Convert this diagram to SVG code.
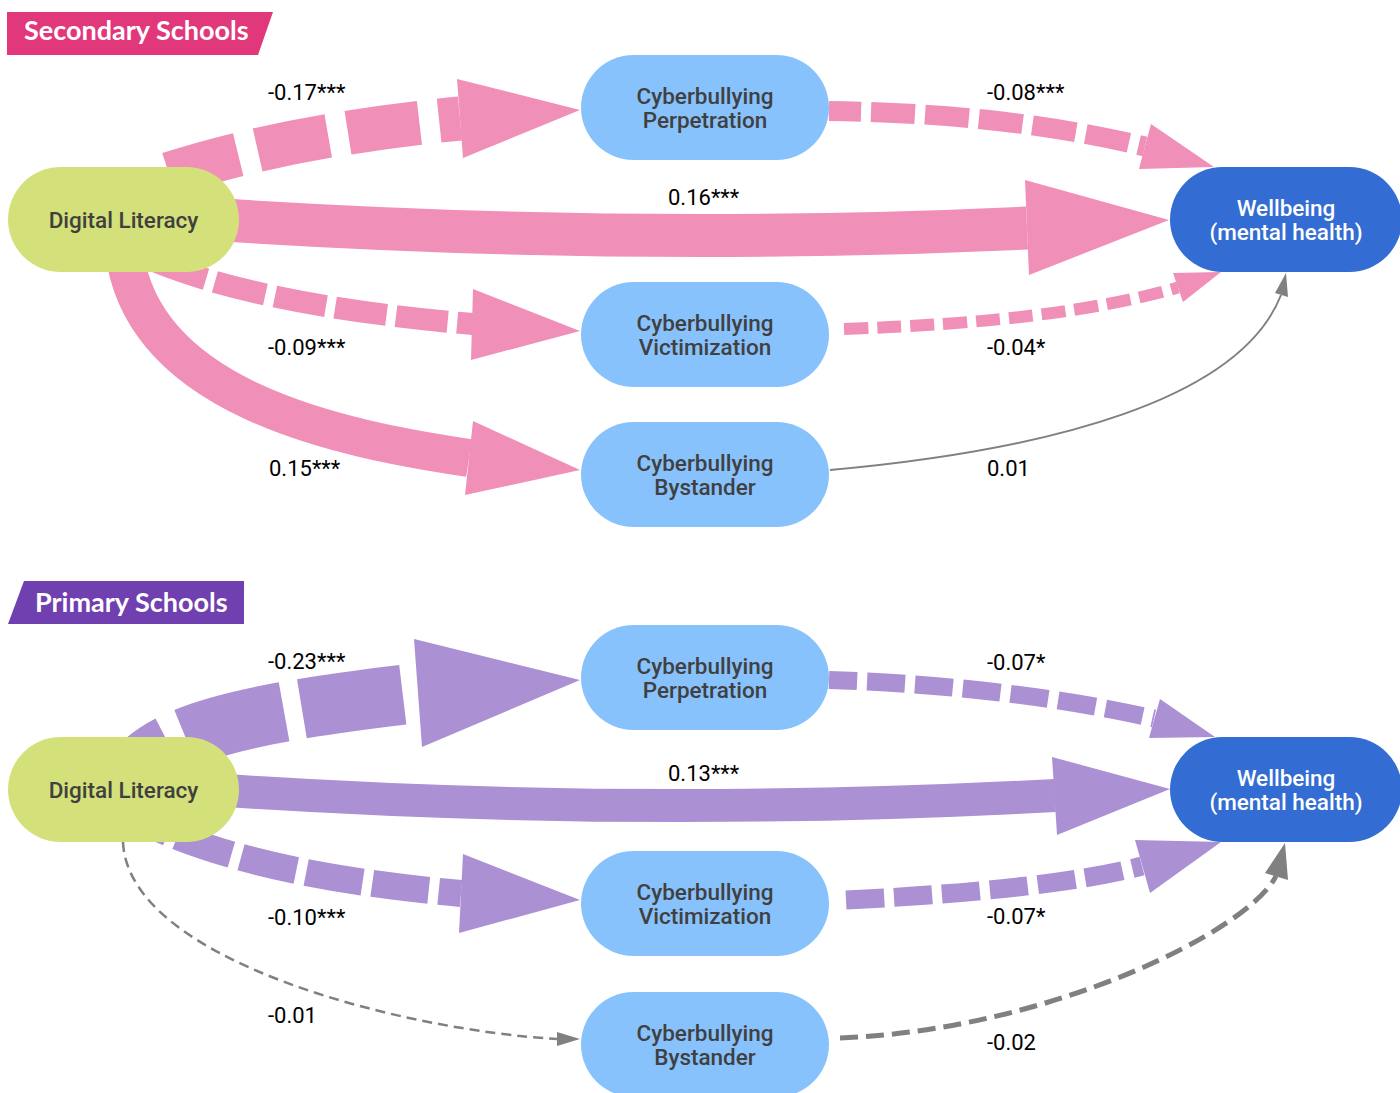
<svg xmlns="http://www.w3.org/2000/svg" width="1400" height="1093" viewBox="0 0 1400 1093">
<style>
.pk{fill:none;stroke:#F08FB8}
.pu{fill:none;stroke:#AB90D3}
.gr{fill:none;stroke:#808080}
.pkh{fill:#F08FB8}
.puh{fill:#AB90D3}
.grh{fill:#808080}
.dl{fill:#D4E17A}
.cb{fill:#88C2FD}
.wb{fill:#336DD3}
.nt{font-family:Roboto,"Liberation Sans",sans-serif;font-size:22.5px;font-weight:500;fill:#404040;text-anchor:middle}
.wt{font-family:Roboto,"Liberation Sans",sans-serif;font-size:22.5px;font-weight:500;fill:#ffffff;text-anchor:middle}
.el{font-family:Roboto,"Liberation Sans",sans-serif;font-size:22px;fill:#000000}
.hd{font-family:Lato,"Liberation Sans",sans-serif;font-size:27px;font-weight:700;fill:#ffffff}
</style>
<rect width="1400" height="1093" fill="#ffffff"/>
<g id="header-secondary">
<polygon points="7,12 273,12 258,55 7,55" fill="#E0387A"/>
<text class="hd" x="24" y="40">Secondary Schools</text>
</g>
<g id="header-primary">
<polygon points="24,581 244,581 244,624 8,624" fill="#7040B0"/>
<text class="hd" x="35" y="612">Primary Schools</text>
</g>
<g id="connectors">
<g id="e-sec-dl-perp">
<path class="pk" d="M169,174 Q290,135 460,118.5" stroke-width="44" stroke-dasharray="72 20"/>
<polygon class="pkh" points="457,79 463,158 580,110"/>
</g>
<g id="e-sec-dl-wb">
<path class="pk" d="M150,215 Q600,248 1027,228" stroke-width="43"/>
<polygon class="pkh" points="1025,180 1029,275 1169,220"/>
</g>
<g id="e-sec-dl-vict">
<path class="pk" d="M140,255 Q250,305 473,324" stroke-width="22" stroke-dasharray="52 9.5" stroke-dashoffset="43"/>
<polygon class="pkh" points="473,289 471,360 580,331"/>
</g>
<g id="e-sec-dl-byst">
<path class="pk" d="M123,230 C123,400 350,440 469,458" stroke-width="38"/>
<polygon class="pkh" points="473,421 465,495 580,470"/>
</g>
<g id="e-sec-perp-wb">
<path class="pk" d="M829,111 Q1005,113 1145,146.5" stroke-width="20" stroke-dasharray="44 10" stroke-dashoffset="12"/>
<polygon class="pkh" points="1151,124 1139,169 1214,167"/>
</g>
<g id="e-sec-vict-wb">
<path class="pk" d="M844,329 Q1060,322 1178,287.5" stroke-width="12" stroke-dasharray="24 9"/>
<polygon class="pkh" points="1173,273 1183,302 1221,272"/>
</g>
<g id="e-sec-byst-wb">
<path class="gr" d="M830,470 C1050,450 1240,400 1281,295" stroke-width="2"/>
<polygon class="grh" points="1275,293 1288,297 1286,273"/>
</g>
<g id="e-pri-dl-perp">
<path class="pu" d="M123,789 C150,735 230,715 418,693" stroke-width="60" stroke-dasharray="102 18" stroke-dashoffset="37"/>
<polygon class="puh" points="414,639 422,747 580,680"/>
</g>
<g id="e-pri-dl-wb">
<path class="pu" d="M150,785 Q600,820 1055,795.5" stroke-width="33"/>
<polygon class="puh" points="1052,757 1057,835 1170,789"/>
</g>
<g id="e-pri-dl-vict">
<path class="pu" d="M140,820 Q250,875 461,893.5" stroke-width="27" stroke-dasharray="57 10" stroke-dashoffset="26"/>
<polygon class="puh" points="463,854 459,933 580,900"/>
</g>
<g id="e-pri-dl-byst">
<path class="gr" d="M123,842 C128,960 400,1030 557,1039" stroke-width="2.5" stroke-dasharray="10 6"/>
<polygon class="grh" points="557,1032 557,1046 580,1039"/>
</g>
<g id="e-pri-perp-wb">
<path class="pu" d="M829,680 Q1010,686 1154,718.5" stroke-width="18" stroke-dasharray="38 10" stroke-dashoffset="10"/>
<polygon class="puh" points="1160,699 1149,738 1215,737"/>
</g>
<g id="e-pri-vict-wb">
<path class="pu" d="M846,900 Q1050,890 1142,866" stroke-width="19" stroke-dasharray="38 10"/>
<polygon class="puh" points="1135,840 1150,893 1221,842"/>
</g>
<g id="e-pri-byst-wb">
<path class="gr" d="M840,1038 C1050,1030 1250,930 1276,876" stroke-width="5" stroke-dasharray="18 8"/>
<polygon class="grh" points="1265,873 1288,880 1285,843"/>
</g>
</g>
<g id="edge-labels">
<text class="el" x="268" y="100">-0.17***</text>
<text class="el" x="987" y="100">-0.08***</text>
<text class="el" x="668" y="205">0.16***</text>
<text class="el" x="268" y="355">-0.09***</text>
<text class="el" x="987" y="355">-0.04*</text>
<text class="el" x="269" y="476">0.15***</text>
<text class="el" x="987" y="476">0.01</text>
<text class="el" x="268" y="669">-0.23***</text>
<text class="el" x="987" y="670">-0.07*</text>
<text class="el" x="668" y="781">0.13***</text>
<text class="el" x="268" y="925">-0.10***</text>
<text class="el" x="987" y="924">-0.07*</text>
<text class="el" x="268" y="1023">-0.01</text>
<text class="el" x="987" y="1050">-0.02</text>
</g>
<g id="n-sec-dl"><rect class="dl" x="8" y="167" width="231" height="105" rx="52.5"/><text class="nt" x="123.5" y="228">Digital Literacy</text></g>
<g id="n-sec-perp"><rect class="cb" x="581" y="55" width="248" height="105" rx="52.5"/><text class="nt" x="705" y="104">Cyberbullying</text><text class="nt" x="705" y="128">Perpetration</text></g>
<g id="n-sec-vict"><rect class="cb" x="581" y="282" width="248" height="105" rx="52.5"/><text class="nt" x="705" y="331">Cyberbullying</text><text class="nt" x="705" y="355">Victimization</text></g>
<g id="n-sec-byst"><rect class="cb" x="581" y="422" width="248" height="105" rx="52.5"/><text class="nt" x="705" y="471">Cyberbullying</text><text class="nt" x="705" y="495">Bystander</text></g>
<g id="n-sec-wb"><rect class="wb" x="1170" y="167" width="232" height="105" rx="52.5"/><text class="wt" x="1286" y="216">Wellbeing</text><text class="wt" x="1286" y="240">(mental health)</text></g>
<g id="n-pri-dl"><rect class="dl" x="8" y="737" width="231" height="105" rx="52.5"/><text class="nt" x="123.5" y="798">Digital Literacy</text></g>
<g id="n-pri-perp"><rect class="cb" x="581" y="625" width="248" height="105" rx="52.5"/><text class="nt" x="705" y="674">Cyberbullying</text><text class="nt" x="705" y="698">Perpetration</text></g>
<g id="n-pri-vict"><rect class="cb" x="581" y="851" width="248" height="105" rx="52.5"/><text class="nt" x="705" y="900">Cyberbullying</text><text class="nt" x="705" y="924">Victimization</text></g>
<g id="n-pri-byst"><rect class="cb" x="581" y="992" width="248" height="105" rx="52.5"/><text class="nt" x="705" y="1041">Cyberbullying</text><text class="nt" x="705" y="1065">Bystander</text></g>
<g id="n-pri-wb"><rect class="wb" x="1170" y="737" width="232" height="105" rx="52.5"/><text class="wt" x="1286" y="786">Wellbeing</text><text class="wt" x="1286" y="810">(mental health)</text></g>
</svg>
